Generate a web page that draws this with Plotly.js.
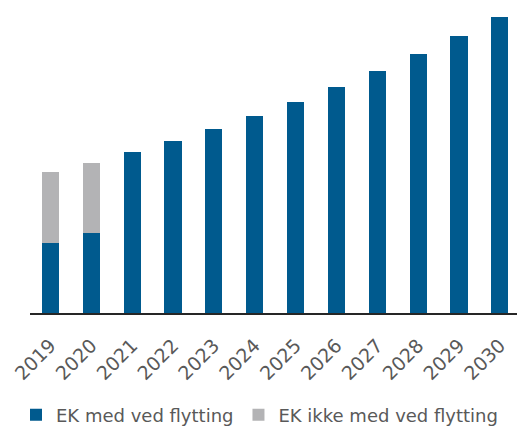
<!DOCTYPE html>
<html>
<head>
<meta charset="utf-8">
<script src="https://cdn.plot.ly/plotly-3.0.1.min.js"></script>
<style>html,body{margin:0;padding:0;background:#fff;}#chart{width:517px;height:428px;}</style>
</head>
<body>
<div id="chart"></div>
<script>
const years = ['2019','2020','2021','2022','2023','2024','2025','2026','2027','2028','2029','2030'];
const ekMed = [69.7, 79.7, 161, 172, 184.4, 197.4, 211, 226, 241.7, 258.7, 277, 296.4];
const ekIkkeMed = [71, 70.7, null, null, null, null, null, null, null, null, null, null];
const seriesNames = ['EK med ved flytting', 'EK ikke med ved flytting'];

const font = 'DejaVu Sans, sans-serif';
const data = [
  {type:'bar', x: years, y: ekMed, name: seriesNames[0], width: 0.42,
   marker:{color:'#005A8E'}},
  {type:'bar', x: years, y: ekIkkeMed, name: seriesNames[1], width: 0.42,
   marker:{color:'#B3B3B5'}}
];
const layout = {
  width: 517, height: 428,
  barmode: 'stack',
  margin: {l: 30, r: 0, t: 10, b: 115},
  paper_bgcolor: '#fff', plot_bgcolor: '#fff',
  font: {family: font, color: '#595959', size: 18},
  xaxis: {type:'category', range: [-0.5, 11.42], showline: true, linecolor: '#262626', linewidth: 2,
          ticks: '', tickangle: -45, ticklabelstandoff: 12, tickfont: {size: 19, color: '#595959'}, showgrid: false, zeroline: false},
  yaxis: {range: [0, 303], visible: false, showgrid: false, zeroline: false},
  showlegend: true,
  legend: {orientation: 'h', xref: 'container', yref: 'container', x: 16/517, y: 13/428, xanchor: 'left', yanchor: 'middle',
           bgcolor: 'rgba(0,0,0,0)', itemwidth: 30, font: {size: 18, color: '#595959'}, traceorder: 'normal'}
};
Plotly.newPlot('chart', data, layout, {displayModeBar: false, staticPlot: true});
</script>
</body>
</html>
